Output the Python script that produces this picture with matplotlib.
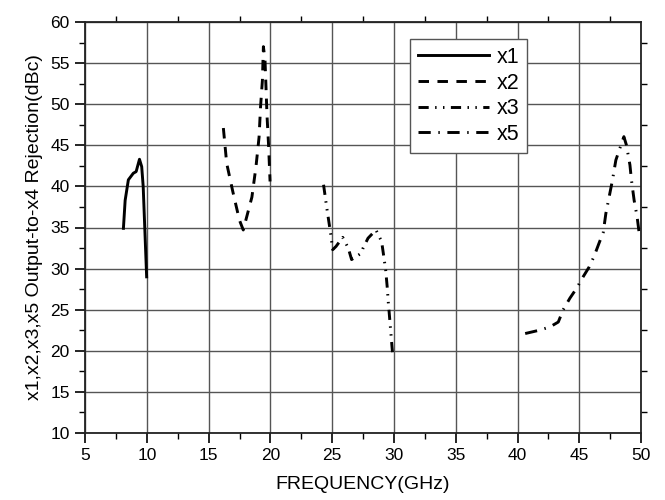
import matplotlib.pyplot as plt
from matplotlib.ticker import MultipleLocator

plt.rcParams['font.family'] = ['Liberation Sans', 'DejaVu Sans']

# x1 harmonic
x1_freq = [8.10, 8.24, 8.50, 8.90, 9.13, 9.40, 9.58, 9.70, 9.98]
x1_rej = [34.9, 38.3, 40.8, 41.6, 41.8, 43.3, 42.4, 40.0, 29.0]

# x2 harmonic
x2_freq = [16.19, 16.46, 16.95, 17.49, 17.80, 18.50, 18.83, 19.08, 19.20,
           19.35, 19.43, 19.56, 19.64, 19.72, 19.85, 19.97]
x2_rej = [47.1, 42.8, 39.4, 35.9, 34.7, 38.7, 42.4, 46.0, 49.7,
          52.9, 57.0, 55.4, 52.1, 48.7, 45.0, 40.6]

# x3 harmonic
x3_freq = [24.30, 24.55, 24.68, 24.87, 25.04, 25.31, 25.85, 26.30, 26.57,
           27.38, 27.50, 27.90, 28.54, 29.00, 29.20, 29.33, 29.45, 29.54,
           29.62, 29.73, 29.84, 29.92]
x3_rej = [40.2, 37.5, 36.2, 34.3, 32.3, 32.7, 33.8, 32.5, 31.1,
          31.9, 32.5, 33.7, 34.7, 33.3, 31.2, 29.8, 27.8, 25.9,
          24.5, 22.5, 20.5, 19.1]

# x5 harmonic
x5_freq = [40.62, 41.76, 42.62, 43.30, 43.70, 44.24, 44.78, 45.31, 45.80,
           46.20, 46.60, 46.94, 47.15, 47.42, 47.69, 47.96, 48.23, 48.61,
           48.82, 49.10, 49.22, 49.44, 49.68, 49.85, 50.00]
x5_rej = [22.1, 22.5, 22.9, 23.5, 25.0, 26.4, 27.6, 29.0, 30.2,
          31.5, 33.1, 34.4, 36.7, 38.75, 40.8, 43.2, 44.4, 46.05,
          45.0, 42.6, 40.8, 38.3, 36.3, 34.3, 33.7]

fig = plt.figure(figsize=(6.65, 5), dpi=100)
ax = fig.add_axes([0.128, 0.134, 0.836, 0.822])

lw = 2.1
ax.plot(x1_freq, x1_rej, color='black', lw=lw, label='x1')
ax.plot(x2_freq, x2_rej, color='black', lw=lw, linestyle=(0, (3.6, 2.9)), label='x2')
ax.plot(x3_freq, x3_rej, color='black', lw=lw,
        linestyle=(0, (3.5, 2.2, 0.5, 2.2, 0.5, 2.2)), label='x3')
ax.plot(x5_freq, x5_rej, color='black', lw=lw,
        linestyle=(0, (4.2, 2.6, 0.5, 2.6)), label='x5')

ax.set_xlim(5, 50)
ax.set_ylim(10, 60)
ax.xaxis.set_major_locator(MultipleLocator(5))
ax.yaxis.set_major_locator(MultipleLocator(5))
ax.xaxis.set_minor_locator(MultipleLocator(2.5))
ax.yaxis.set_minor_locator(MultipleLocator(2.5))
ax.grid(True, which='major', color='#555555', linewidth=1.0)

for s in ax.spines.values():
    s.set_linewidth(1.3)
    s.set_color('#222222')

ax.tick_params(which='major', direction='out', length=7, width=1.2,
               labelsize=12.5, top=False, right=False, pad=4)
ax.tick_params(which='minor', direction='out', length=4, width=1.0,
               top=True, right=True)

ax.set_xlabel('FREQUENCY(GHz)', fontsize=14, labelpad=9)
ax.set_ylabel('x1,x2,x3,x5 Output-to-x4 Rejection(dBc)', fontsize=14, labelpad=5)

leg = ax.legend(loc='upper left', bbox_to_anchor=(0.585, 0.958), fontsize=15.5,
                handlelength=3.3, handletextpad=0.35, labelspacing=0.22,
                borderpad=0.35, fancybox=False, framealpha=1, borderaxespad=0)
leg.get_frame().set_edgecolor('#555555')
leg.get_frame().set_linewidth(1.0)

plt.savefig('out.png', dpi=100)
